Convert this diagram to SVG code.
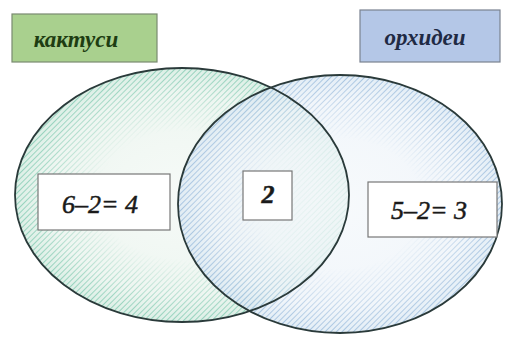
<svg xmlns="http://www.w3.org/2000/svg" width="510" height="337" viewBox="0 0 510 337">
<style>
.lbl{font-family:"Liberation Serif",serif;font-weight:bold;font-style:italic;font-size:23px;text-anchor:middle}
.eq{font-family:"Liberation Serif",serif;font-style:italic;font-size:26px;text-anchor:middle;fill:#1a1a1a;stroke:#1a1a1a;stroke-width:0.5}
.box{fill:#fff;stroke:#777;stroke-width:1.2}
.ring{stroke:#2a3a3a;stroke-width:1.8}
</style>
<defs>
<pattern id="hg" width="4" height="4" patternUnits="userSpaceOnUse" patternTransform="rotate(45)">
<line x1="0" y1="0" x2="0" y2="4" stroke="#7fc9b0" stroke-width="1.6"/>
</pattern>
<pattern id="hb" width="4" height="4" patternUnits="userSpaceOnUse" patternTransform="rotate(45)">
<line x1="0" y1="0" x2="0" y2="4" stroke="#8fb4d8" stroke-width="1.6"/>
</pattern>
<radialGradient id="fg" cx="0.5" cy="0.5" r="0.5">
<stop offset="0" stop-color="#f6faf7"/>
<stop offset="0.8" stop-color="#eef6f1"/>
<stop offset="1" stop-color="#dcefe6"/>
</radialGradient>
<radialGradient id="fb" cx="0.5" cy="0.5" r="0.5">
<stop offset="0" stop-color="#f4f8fb"/>
<stop offset="0.8" stop-color="#edf3f9"/>
<stop offset="1" stop-color="#dae8f3"/>
</radialGradient>
<radialGradient id="mg" cx="0.5" cy="0.5" r="0.5">
<stop offset="0.5" stop-color="#fff" stop-opacity="0"/>
<stop offset="0.82" stop-color="#fff" stop-opacity="0.7"/>
<stop offset="1" stop-color="#fff" stop-opacity="1"/>
</radialGradient>
<mask id="ml" maskContentUnits="objectBoundingBox"><rect width="1" height="1" fill="url(#mg)"/></mask>
</defs>
<rect width="510" height="337" fill="#fff"/>
<g id="set-cactus">
<ellipse cx="182" cy="195" rx="167" ry="127" fill="url(#fg)"/>
<ellipse cx="182" cy="195" rx="167" ry="127" fill="url(#hg)" mask="url(#ml)"/>
</g>
<g id="set-orchid">
<ellipse cx="340" cy="204" rx="162" ry="129" fill="url(#fb)" fill-opacity="0.75"/>
<ellipse cx="340" cy="204" rx="162" ry="129" fill="url(#hb)" mask="url(#ml)" opacity="0.9"/>
</g>
<g id="outlines">
<ellipse class="ring" cx="182" cy="195" rx="167" ry="127" fill="none"/>
<ellipse class="ring" cx="340" cy="204" rx="162" ry="129" fill="none"/>
</g>
<g id="label-cactus">
<rect x="12" y="14" width="145" height="48" fill="#a9d08e" stroke="#7a8a70" stroke-width="1.2"/>
<text class="lbl" x="76" y="47" fill="#1e3d12">кактуси</text>
</g>
<g id="label-orchid">
<rect x="360" y="10" width="140" height="52" fill="#b4c7e7" stroke="#7a8290" stroke-width="1.2"/>
<text class="lbl" x="425" y="45" fill="#1f2a44">орхидеи</text>
</g>
<g id="only-cactus">
<rect class="box" x="38" y="174" width="132" height="56"/>
<text class="eq" x="100" y="213">6–2= 4</text>
</g>
<g id="both">
<rect class="box" x="243" y="171" width="49" height="49"/>
<text class="eq" x="268" y="203" font-size="17" font-weight="bold">2</text>
</g>
<g id="only-orchid">
<rect class="box" x="368" y="182" width="129" height="55"/>
<text class="eq" x="429" y="219">5–2= 3</text>
</g>
</svg>
